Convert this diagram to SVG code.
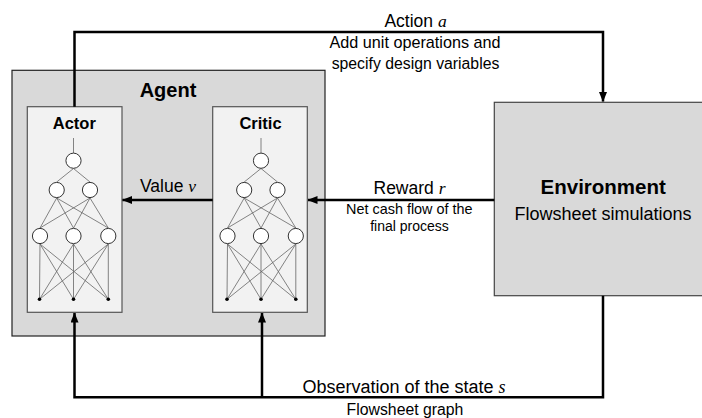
<svg xmlns="http://www.w3.org/2000/svg" width="702" height="418" viewBox="0 0 702 418">
<style>
text{font-family:"Liberation Sans",Arial,sans-serif;fill:#000;text-anchor:middle}
.b{font-weight:bold}
.m{font-family:"Liberation Serif","Times New Roman",serif;font-style:italic}
.box{fill:#d9d9d9;stroke:#222;stroke-width:1.2}
.env{fill:#d9d9d9;stroke:#444;stroke-width:1.2}
.inner{fill:#f2f2f2;stroke:#555;stroke-width:1.2}
.conn{fill:none;stroke:#000;stroke-width:2.5}
.nl{stroke:#666;stroke-width:0.8;fill:none}
.nc{fill:#fff;stroke:#333;stroke-width:1}
.nd{fill:#000}
</style>
<defs>
<marker id="ah" markerUnits="userSpaceOnUse" markerWidth="10" markerHeight="8" refX="9.5" refY="4" orient="auto">
<path d="M0,0 L10,4 L0,8 z" fill="#000"/>
</marker>
<g id="nn">
<path class="nl" d="M73.5,138 V153 M73.5,168.5 L56.7,182 M73.5,168.5 L90,182 M56.7,198 L40,228 M56.7,198 L73.5,228 M56.7,198 L108.3,228 M90,198 L40,228 M90,198 L73.5,228 M90,198 L108.3,228 M40,244 L39.5,299.3 M40,244 L73.5,299.3 M40,244 L108.3,299.3 M73.5,244 L39.5,299.3 M73.5,244 L73.5,299.3 M73.5,244 L108.3,299.3 M108.3,244 L39.5,299.3 M108.3,244 L73.5,299.3 M108.3,244 L108.3,299.3"/>
<circle class="nc" cx="73.5" cy="160.7" r="7.6"/>
<circle class="nc" cx="56.7" cy="190" r="7.6"/>
<circle class="nc" cx="90" cy="190" r="7.6"/>
<circle class="nc" cx="40" cy="236" r="7.6"/>
<circle class="nc" cx="73.5" cy="236" r="7.6"/>
<circle class="nc" cx="108.3" cy="236" r="7.6"/>
<circle class="nd" cx="39.5" cy="299.3" r="1.8"/>
<circle class="nd" cx="73.5" cy="299.3" r="1.8"/>
<circle class="nd" cx="108.3" cy="299.3" r="1.8"/>
</g>
</defs>
<g id="agent">
<rect class="box" x="12" y="70.3" width="313" height="265.7"/>
<text class="b" x="168" y="96.5" font-size="20">Agent</text>
</g>
<g id="actor">
<rect class="inner" x="27.3" y="106.7" width="94.7" height="205.6"/>
<text class="b" x="74.3" y="129.3" font-size="16.5">Actor</text>
<use href="#nn"/>
</g>
<g id="critic">
<rect class="inner" x="212.7" y="106.7" width="94.6" height="205.6"/>
<text class="b" x="260.5" y="128.5" font-size="16.5">Critic</text>
<use href="#nn" transform="translate(187.5,0)"/>
</g>
<g id="environment">
<rect class="env" x="494.3" y="102.3" width="212" height="193.4"/>
<text class="b" x="603.2" y="194.3" font-size="20.5">Environment</text>
<text x="603" y="220" font-size="18">Flowsheet simulations</text>
</g>
<g id="connectors">
<path class="conn" d="M74.5,106.7 V32 H603 V101.5" marker-end="url(#ah)"/>
<path class="conn" d="M494.3,200 H308" marker-end="url(#ah)"/>
<path class="conn" d="M212.7,200 H122.5" marker-end="url(#ah)"/>
<path class="conn" d="M603,295.7 V397.3 H74.5 V313" marker-end="url(#ah)"/>
<path class="conn" d="M262,397.3 V313" marker-end="url(#ah)"/>
</g>
<g id="labels">
<text x="415.5" y="26.7" font-size="17.5">Action <tspan class="m">a</tspan></text>
<text x="415" y="48.3" font-size="16.2">Add unit operations and</text>
<text x="415.5" y="69" font-size="15.8">specify design variables</text>
<text x="168" y="191.7" font-size="17.5">Value <tspan class="m">v</tspan></text>
<text x="409.5" y="194" font-size="17.5">Reward <tspan class="m">r</tspan></text>
<text x="409.3" y="214" font-size="14.4">Net cash flow of the</text>
<text x="409.5" y="230.7" font-size="14">final process</text>
<text x="404" y="392.7" font-size="18">Observation of the state <tspan class="m">s</tspan></text>
<text x="405" y="415" font-size="15.8">Flowsheet graph</text>
</g>
</svg>
